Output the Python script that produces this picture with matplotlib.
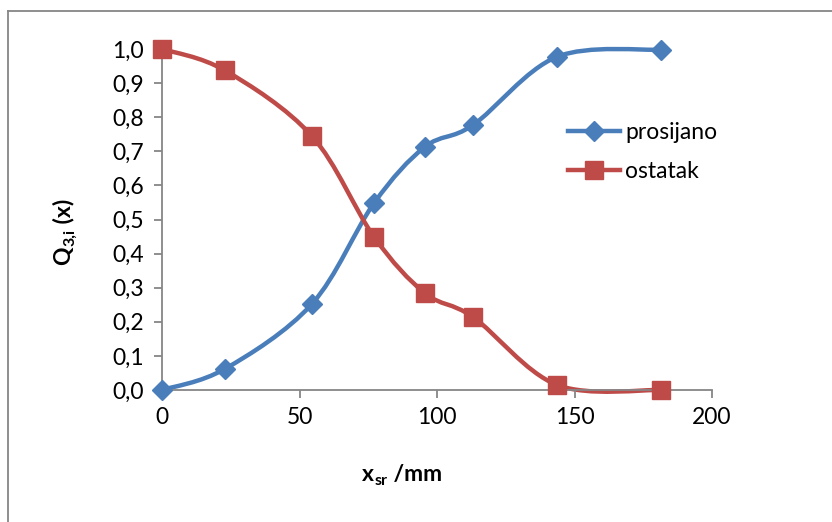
import matplotlib.pyplot as plt
import numpy as np
from matplotlib.path import Path
from matplotlib.patches import PathPatch
from matplotlib.lines import Line2D

plt.rcParams['font.family'] = ['Lato', 'DejaVu Sans']

# Podaci
x_sr = [0, 22.9, 54.5, 77.1, 95.6, 113.1, 143.6, 181.5]
prosijano = [0.0, 0.062, 0.252, 0.548, 0.713, 0.777, 0.977, 0.998]
ostatak = [1.0, 0.937, 0.745, 0.449, 0.284, 0.214, 0.015, 0.0]

plava = '#4A7EBB'
crvena = '#BE4B48'
vel = 16.5
sub = 11.5


def glatka_putanja(x, y):
    # Excel-like smoothed line (Catmull-Rom as cubic Bezier)
    p = np.column_stack((x, y)).astype(float)
    p = np.vstack((p[0], p, p[-1]))
    verts = [p[1]]
    codes = [Path.MOVETO]
    for i in range(1, len(p) - 2):
        c1 = p[i] + (p[i + 1] - p[i - 1]) / 6
        c2 = p[i + 1] - (p[i + 2] - p[i]) / 6
        verts += [c1, c2, p[i + 1]]
        codes += [Path.CURVE4] * 3
    return Path(verts, codes)


fig = plt.figure(figsize=(8.32, 5.22), dpi=100)
ax = fig.add_axes([162 / 832, 1 - 390 / 522, 550 / 832, 341 / 522])

for y, boja, m, ms in [(prosijano, plava, 'D', 10), (ostatak, crvena, 's', 13)]:
    ax.add_patch(PathPatch(glatka_putanja(x_sr, y), fill=False, edgecolor=boja,
                           lw=3.2, capstyle='round', clip_on=False))
    ax.plot(x_sr, y, linestyle='none', marker=m, ms=ms, color=boja, clip_on=False, zorder=3)

ax.set_xlim(0, 200)
ax.set_ylim(0, 1)
ax.set_xticks([0, 50, 100, 150, 200])
ax.set_yticks(np.arange(0, 1.01, 0.1))
ax.set_yticklabels([f'{v:.1f}'.replace('.', ',') for v in np.arange(0, 1.01, 0.1)])

for s in ['top', 'right']:
    ax.spines[s].set_visible(False)
for s in ['left', 'bottom']:
    ax.spines[s].set_color('#868686')
    ax.spines[s].set_linewidth(1.3)
ax.tick_params(colors='#868686', labelcolor='black', labelsize=vel, length=6, width=1.3)
ax.tick_params(axis='y', pad=7)
ax.tick_params(axis='x', pad=6)

# x oznaka: x_sr /mm (sastavljena iz dijelova, podebljano)
t1 = ax.text(0.364, -0.267, 'x', transform=ax.transAxes, fontsize=vel, fontweight='bold',
             ha='left', va='baseline')
t2 = ax.annotate('sr', xy=(1, 0), xycoords=t1, xytext=(0.3, 0), textcoords='offset points',
                 fontsize=sub, fontweight='bold', ha='left', va='baseline')
ax.annotate(' /mm', xy=(1, 0), xycoords=(t2, t1), fontsize=vel, fontweight='bold',
            ha='left', va='bottom')

# y oznaka: Q_3,i (x)
q1 = ax.text(-0.167, 0.367, 'Q', transform=ax.transAxes, fontsize=vel, fontweight='bold',
             rotation=90, rotation_mode='anchor', ha='left', va='baseline')
q2 = ax.annotate('3,i', xy=(1, 1), xycoords=q1, xytext=(0, 0.3), textcoords='offset points',
                 fontsize=sub, fontweight='bold', rotation=90, rotation_mode='anchor',
                 ha='left', va='baseline')
ax.annotate(' (x)', xy=(1, 1), xycoords=(q1, q2), fontsize=vel, fontweight='bold',
            rotation=90, rotation_mode='anchor', ha='left', va='bottom')

handles = [
    Line2D([], [], color=plava, lw=3.2, marker='D', ms=10),
    Line2D([], [], color=crvena, lw=3.2, marker='s', ms=13),
]
ax.legend(handles, ['prosijano', 'ostatak'], loc='upper left', bbox_to_anchor=(0.7, 0.845),
          frameon=False, fontsize=vel, handlelength=2.3, handletextpad=0.2, labelspacing=0.75)

# okvir grafikona
fig.add_artist(Line2D([8 / 832, 1], [1 - 11 / 522, 1 - 11 / 522], color='#868686', lw=1.3))
fig.add_artist(Line2D([8 / 832, 8 / 832], [0, 1 - 11 / 522], color='#868686', lw=1.3))

fig.savefig('out.png', dpi=100)
